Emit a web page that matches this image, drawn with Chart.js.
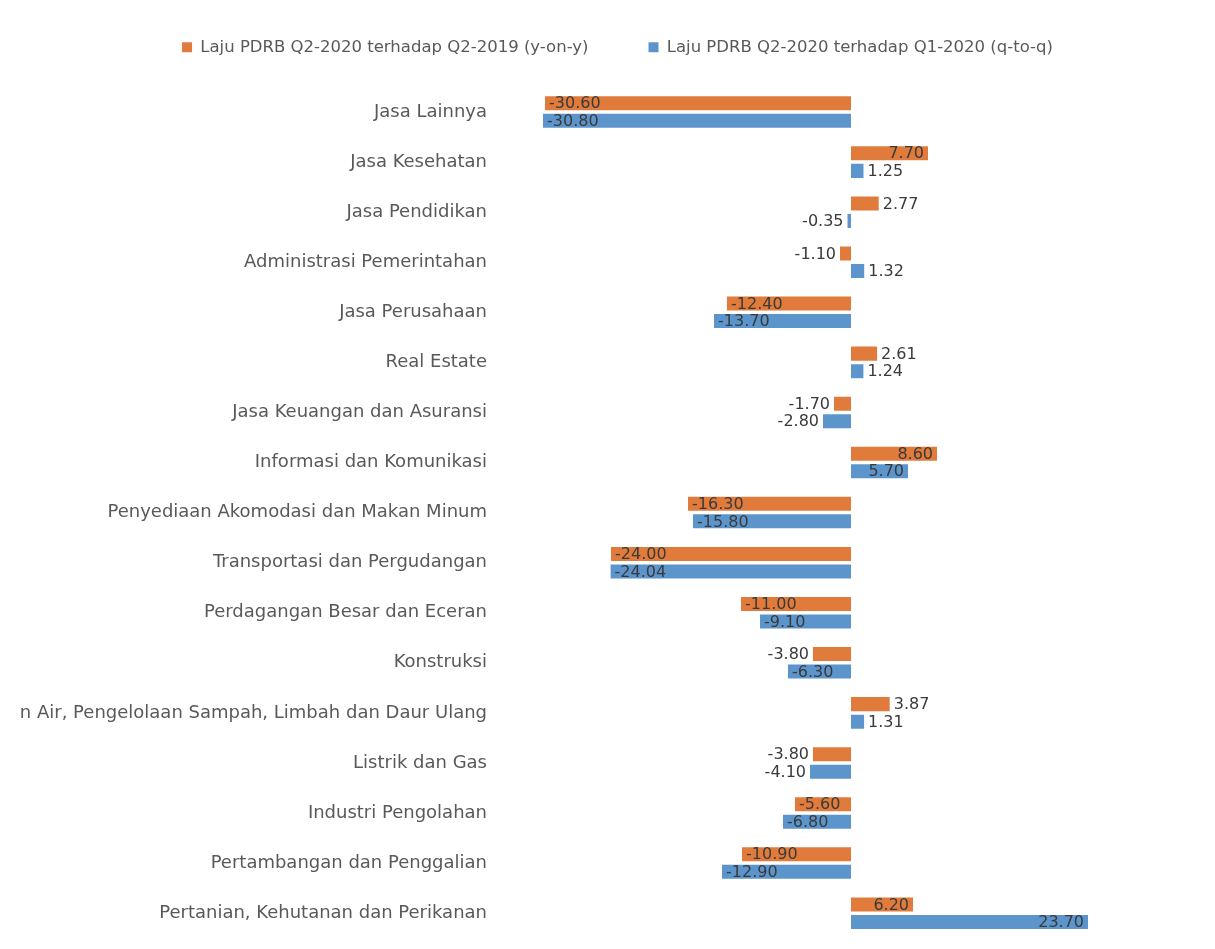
<!DOCTYPE html>
<html lang="id">

<head>
  <meta charset="UTF-8">
  <title>Laju PDRB menurut Lapangan Usaha</title>
  <style>
    body {
      margin: 0;
      background-color: #ffffff;
    }

    #chart-container {
      width: 1215px;
      height: 949px;
    }
  </style>
</head>

<body>
  <div id="chart-container">
    <canvas id="lajuChart"></canvas>
  </div>

  <script src="https://cdn.jsdelivr.net/npm/chart.js"></script>
  <script>
    // lapangan usaha, urutan dari atas ke bawah
    const lapanganUsaha = [
      'Jasa Lainnya',
      'Jasa Kesehatan',
      'Jasa Pendidikan',
      'Administrasi Pemerintahan',
      'Jasa Perusahaan',
      'Real Estate',
      'Jasa Keuangan dan Asuransi',
      'Informasi dan Komunikasi',
      'Penyediaan Akomodasi dan Makan Minum',
      'Transportasi dan Pergudangan',
      'Perdagangan Besar dan Eceran',
      'Konstruksi',
      'Pengadaan Air, Pengelolaan Sampah, Limbah dan Daur Ulang',
      'Listrik dan Gas',
      'Industri Pengolahan',
      'Pertambangan dan Penggalian',
      'Pertanian, Kehutanan dan Perikanan'
    ];

    const namaSeri = [
      'Laju PDRB Q2-2020 terhadap Q2-2019 (y-on-y)',
      'Laju PDRB Q2-2020 terhadap Q1-2020 (q-to-q)'
    ];

    // persen
    const lajuYoy = [-30.60, 7.70, 2.77, -1.10, -12.40, 2.61, -1.70, 8.60, -16.30, -24.00,
      -11.00, -3.80, 3.87, -3.80, -5.60, -10.90, 6.20];
    const lajuQtq = [-30.80, 1.25, -0.35, 1.32, -13.70, 1.24, -2.80, 5.70, -15.80, -24.04,
      -9.10, -6.30, 1.31, -4.10, -6.80, -12.90, 23.70];

    const warnaOranye = '#E07B3C';
    const warnaBiru = '#5B95CB';

    // label nilai di ujung batang: di dalam kalau muat, di luar kalau batang terlalu pendek
    const labelNilai = {
      id: 'labelNilai',
      afterDatasetsDraw(chart) {
        const ctx = chart.ctx;
        ctx.save();
        ctx.font = '16px "DejaVu Sans", sans-serif';
        ctx.fillStyle = '#3a3a3a';
        ctx.textBaseline = 'middle';
        chart.data.datasets.forEach((ds, i) => {
          chart.getDatasetMeta(i).data.forEach((bar, j) => {
            const v = ds.data[j];
            const teks = v.toFixed(2);
            const w = ctx.measureText(teks).width;
            const len = Math.abs(bar.x - bar.base);
            const diDalam = len >= w + 8;
            let x;
            if (v >= 0) {
              ctx.textAlign = diDalam ? 'right' : 'left';
              x = diDalam ? bar.x - 4 : bar.x + 4;
            } else {
              ctx.textAlign = diDalam ? 'left' : 'right';
              x = diDalam ? bar.x + 4 : bar.x - 4;
            }
            ctx.fillText(teks, x, bar.y + 1);
          });
        });
        ctx.restore();
      }
    };

    // beri jarak antara legenda dan area grafik
    const jarakLegenda = {
      id: 'jarakLegenda',
      beforeInit(chart) {
        const fitAsli = chart.legend.fit;
        chart.legend.fit = function () {
          fitAsli.bind(chart.legend)();
          this.height = 108;
        };
      }
    };

    const ctx = document.getElementById('lajuChart').getContext('2d');

    new Chart(ctx, {
      type: 'bar',
      data: {
        labels: lapanganUsaha,
        datasets: [
          {
            label: namaSeri[0],
            data: lajuYoy,
            backgroundColor: warnaOranye,
            barPercentage: 0.8,
            categoryPercentage: 0.7
          },
          {
            label: namaSeri[1],
            data: lajuQtq,
            backgroundColor: warnaBiru,
            barPercentage: 0.8,
            categoryPercentage: 0.7
          }
        ]
      },
      options: {
        indexAxis: 'y',
        responsive: true,
        maintainAspectRatio: false,
        animation: false,
        layout: {
          padding: { top: -21, right: 0, bottom: 0, left: 20 }
        },
        scales: {
          x: {
            display: false,
            min: -35,
            max: 36.4
          },
          y: {
            grid: { display: false, drawTicks: true, tickLength: 14 },
            border: { display: false },
            ticks: {
              color: '#595959',
              padding: 0,
              autoSkip: false,
              font: { family: '"DejaVu Sans", sans-serif', size: 18 }
            },
            afterFit(scale) {
              scale.width = 481;
            }
          }
        },
        plugins: {
          legend: {
            position: 'top',
            labels: {
              color: '#595959',
              boxWidth: 10,
              boxHeight: 10,
              padding: 60,
              font: { family: '"DejaVu Sans", sans-serif', size: 16.5 }
            }
          },
          tooltip: { enabled: false }
        }
      },
      plugins: [labelNilai, jarakLegenda]
    });
  </script>
</body>

</html>
